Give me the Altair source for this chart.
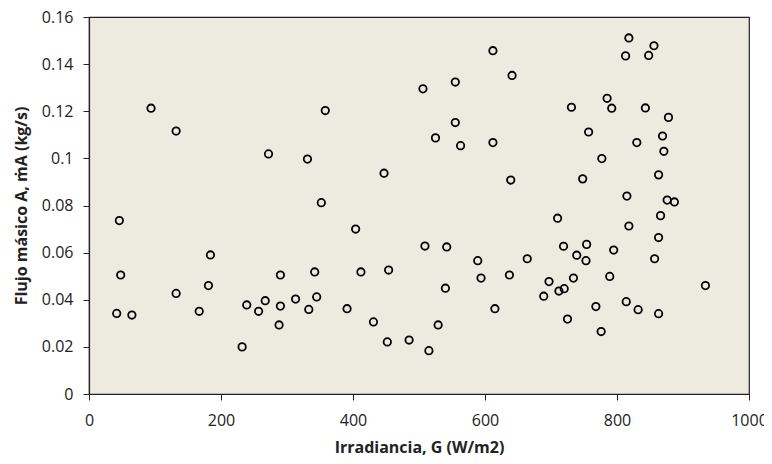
import altair as alt
import pandas as pd

irradiancia = [94, 132, 272, 331, 358, 352, 46, 48, 42, 65, 132, 184, 181, 167, 232, 239,
               257, 267, 290, 290, 288, 313, 333, 342, 345, 447, 506, 555, 612, 641, 555,
               525, 563, 612, 639, 404, 412, 454, 509, 542, 391, 431, 452, 485, 515, 529,
               540, 589, 594, 637, 664, 615, 710, 697, 689, 818, 856, 813, 848, 731, 785,
               792, 843, 878, 757, 869, 830, 871, 777, 748, 863, 815, 876, 887, 866, 818,
               863, 719, 754, 739, 753, 795, 857, 734, 789, 712, 720, 934, 814, 832, 863,
               768, 725, 776]
flujo = [0.1213, 0.1116, 0.1019, 0.0997, 0.1203, 0.0812, 0.0736, 0.0505, 0.0342, 0.0335,
         0.0427, 0.0590, 0.0460, 0.0351, 0.0200, 0.0378, 0.0351, 0.0396, 0.0505, 0.0373,
         0.0293, 0.0403, 0.0359, 0.0518, 0.0412, 0.0937, 0.1295, 0.1324, 0.1457, 0.1352,
         0.1152, 0.1087, 0.1054, 0.1067, 0.0908, 0.0700, 0.0518, 0.0526, 0.0628, 0.0624,
         0.0362, 0.0306, 0.0221, 0.0229, 0.0184, 0.0293, 0.0449, 0.0566, 0.0492, 0.0505,
         0.0574, 0.0362, 0.0746, 0.0477, 0.0415, 0.1511, 0.1478, 0.1435, 0.1437, 0.1217,
         0.1255, 0.1213, 0.1214, 0.1174, 0.1112, 0.1095, 0.1067, 0.1030, 0.0999, 0.0913,
         0.0930, 0.0840, 0.0823, 0.0815, 0.0757, 0.0713, 0.0664, 0.0627, 0.0635, 0.0589,
         0.0566, 0.0611, 0.0574, 0.0492, 0.0499, 0.0437, 0.0447, 0.0460, 0.0392, 0.0358,
         0.0341, 0.0371, 0.0318, 0.0265]

x_ticks = [0, 200, 400, 600, 800, 1000]
y_ticks = [0, 0.02, 0.04, 0.06, 0.08, 0.1, 0.12, 0.14, 0.16]

df = pd.DataFrame({"G": irradiancia, "m": flujo})

font = "Open Sans"

chart = alt.Chart(df).mark_point(
    shape="circle", filled=False, color="black", size=55, strokeWidth=1.8, opacity=1
).encode(
    x=alt.X("G:Q", scale=alt.Scale(domain=[0, 1000], nice=False),
            axis=alt.Axis(values=x_ticks, title="Irradiancia, G (W/m2)", grid=False,
                          format="d", tickSize=6, labelPadding=12, titlePadding=11,
                          labelFlush=False)),
    y=alt.Y("m:Q", scale=alt.Scale(domain=[0, 0.16], nice=False),
            axis=alt.Axis(values=y_ticks, title="Flujo másico A, ṁA (kg/s)", grid=False,
                          format=".2~f", tickSize=6, labelPadding=10, titlePadding=12,
                          labelFlush=False)),
).properties(
    width=660, height=377,
    padding={"left": 81, "top": 9, "right": 15, "bottom": 62},
    autosize=alt.AutoSizeParams(type="none"),
    background="white",
).configure_view(
    fill="#EDEAE0", stroke="#222222", strokeWidth=1.2
).configure_axis(
    domainColor="#222222", tickColor="#222222", domainWidth=1.2,
    labelFont=font, titleFont=font, labelFontSize=16, titleFontSize=16,
    labelColor="#222222", titleColor="#222222", titleFontWeight="bold"
)

chart.save("out.html", embed_options={"renderer": "svg", "actions": False})
